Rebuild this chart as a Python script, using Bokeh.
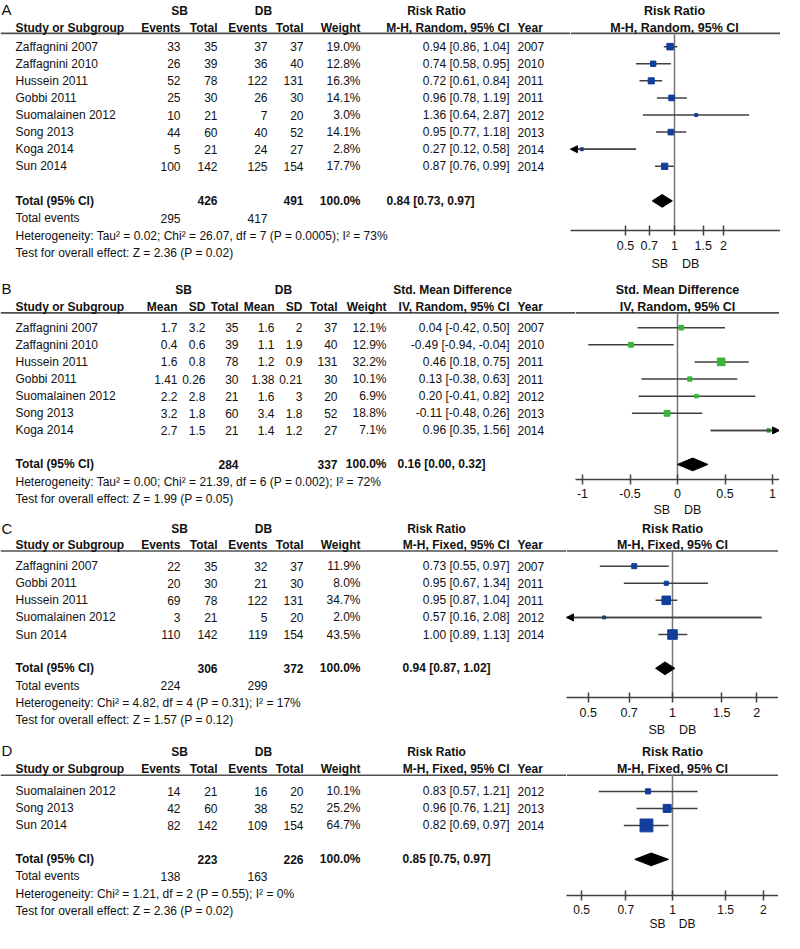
from bokeh.plotting import figure
from bokeh.models import Range1d, FixedTicker, CustomJSTickFormatter, Arrow, NormalHead
from bokeh.layouts import column, row
from bokeh.embed import file_html
from bokeh.resources import INLINE
from bokeh.core.properties import value

# ---------------- DATA ----------------
# Panel A
a_studies = ["Zaffagnini 2007", "Zaffagnini 2010", "Hussein 2011", "Gobbi 2011",
             "Suomalainen 2012", "Song 2013", "Koga 2014", "Sun 2014"]
a_sb_events = [33, 26, 52, 25, 10, 44, 5, 100]
a_sb_total = [35, 39, 78, 30, 21, 60, 21, 142]
a_db_events = [37, 36, 122, 26, 7, 40, 24, 125]
a_db_total = [37, 40, 131, 30, 20, 52, 27, 154]
a_weight = [19.0, 12.8, 16.3, 14.1, 3.0, 14.1, 2.8, 17.7]
a_est = [0.94, 0.74, 0.72, 0.96, 1.36, 0.95, 0.27, 0.87]
a_lo = [0.86, 0.58, 0.61, 0.78, 0.64, 0.77, 0.12, 0.76]
a_hi = [1.04, 0.95, 0.84, 1.19, 2.87, 1.18, 0.58, 0.99]
a_year = [2007, 2010, 2011, 2011, 2012, 2013, 2014, 2014]
a_total_n = [426, 491]
a_total_weight = 100.0
a_total_events = [295, 417]
a_total_rr = [0.84, 0.73, 0.97]
a_het = "Heterogeneity: Tau² = 0.02; Chi² = 26.07, df = 7 (P = 0.0005); I² = 73%"
a_test = "Test for overall effect: Z = 2.36 (P = 0.02)"

# Panel B
b_studies = ["Zaffagnini 2007", "Zaffagnini 2010", "Hussein 2011", "Gobbi 2011",
             "Suomalainen 2012", "Song 2013", "Koga 2014"]
b_sb_mean = [1.7, 0.4, 1.6, 1.41, 2.2, 3.2, 2.7]
b_sb_sd = [3.2, 0.6, 0.8, 0.26, 2.8, 1.8, 1.5]
b_sb_total = [35, 39, 78, 30, 21, 60, 21]
b_db_mean = [1.6, 1.1, 1.2, 1.38, 1.6, 3.4, 1.4]
b_db_sd = [2, 1.9, 0.9, 0.21, 3, 1.8, 1.2]
b_db_total = [37, 40, 131, 30, 20, 52, 27]
b_weight = [12.1, 12.9, 32.2, 10.1, 6.9, 18.8, 7.1]
b_est = [0.04, -0.49, 0.46, 0.13, 0.20, -0.11, 0.96]
b_lo = [-0.42, -0.94, 0.18, -0.38, -0.41, -0.48, 0.35]
b_hi = [0.50, -0.04, 0.75, 0.63, 0.82, 0.26, 1.56]
b_year = [2007, 2010, 2011, 2011, 2012, 2013, 2014]
b_total_n = [284, 337]
b_total_weight = 100.0
b_total_smd = [0.16, 0.00, 0.32]
b_het = "Heterogeneity: Tau² = 0.00; Chi² = 21.39, df = 6 (P = 0.002); I² = 72%"
b_test = "Test for overall effect: Z = 1.99 (P = 0.05)"

# Panel C
c_studies = ["Zaffagnini 2007", "Gobbi 2011", "Hussein 2011", "Suomalainen 2012", "Sun 2014"]
c_sb_events = [22, 20, 69, 3, 110]
c_sb_total = [35, 30, 78, 21, 142]
c_db_events = [32, 21, 122, 5, 119]
c_db_total = [37, 30, 131, 20, 154]
c_weight = [11.9, 8.0, 34.7, 2.0, 43.5]
c_est = [0.73, 0.95, 0.95, 0.57, 1.00]
c_lo = [0.55, 0.67, 0.87, 0.16, 0.89]
c_hi = [0.97, 1.34, 1.04, 2.08, 1.13]
c_year = [2007, 2011, 2011, 2012, 2014]
c_total_n = [306, 372]
c_total_weight = 100.0
c_total_events = [224, 299]
c_total_rr = [0.94, 0.87, 1.02]
c_het = "Heterogeneity: Chi² = 4.82, df = 4 (P = 0.31); I² = 17%"
c_test = "Test for overall effect: Z = 1.57 (P = 0.12)"

# Panel D
d_studies = ["Suomalainen 2012", "Song 2013", "Sun 2014"]
d_sb_events = [14, 42, 82]
d_sb_total = [21, 60, 142]
d_db_events = [16, 38, 109]
d_db_total = [20, 52, 154]
d_weight = [10.1, 25.2, 64.7]
d_est = [0.83, 0.96, 0.82]
d_lo = [0.57, 0.76, 0.69]
d_hi = [1.21, 1.21, 0.97]
d_year = [2012, 2013, 2014]
d_total_n = [223, 226]
d_total_weight = 100.0
d_total_events = [138, 163]
d_total_rr = [0.85, 0.75, 0.97]
d_het = "Heterogeneity: Chi² = 1.21, df = 2 (P = 0.55); I² = 0%"
d_test = "Test for overall effect: Z = 2.36 (P = 0.02)"

rr_ticks = [0.5, 0.7, 1, 1.5, 2]
smd_ticks = [-1, -0.5, 0, 0.5, 1]
axis_group_label = "SB\u00a0\u00a0\u00a0\u00a0DB"

# ---------------- LAYOUT / STYLE ----------------
K = 933 / 949.0
XL = 7
FONT = "Liberation Sans"
FS = "12px"
TXT = "#111111"
LINE = "#404040"
NULLC = "#777777"
BLUE = "#123d9b"
GREEN = "#3bb33b"

LA = dict(top=0, bottom=282, letter=9, h1=11, h2=27.5, ul=33.5, r0=47, step=17.4,
          total=204, events=221.5, het=240, test=257, axis=234,
          X0=577, X1=787, xn=681, scale=163, msize=1.5,
          lab_standoff=5, axlab_standoff=4, tick_fs="12.5px")
LB = dict(top=282, bottom=529, letter=293, h1=295, h2=312, ul=318, r0=333, step=17.4,
          total=472, events=None, het=490, test=507, axis=487,
          X0=582, X1=786, xn=684, scale=95, msize=1.35,
          lab_standoff=4, axlab_standoff=2, tick_fs="12.5px")
LC = dict(top=529, bottom=753, letter=537, h1=537.5, h2=554, ul=560, r0=575.5, step=17.4,
          total=679.5, events=697, het=715, test=732, axis=709,
          X0=573, X1=785, xn=679, scale=280, msize=1.45,
          lab_standoff=5, axlab_standoff=3, tick_fs="12.5px")
LD = dict(top=753, bottom=949, letter=763.5, h1=765, h2=782.5, ul=788.5, r0=805, step=17.4,
          total=874.5, events=892, het=910, test=927, axis=911,
          X0=573, X1=785, xn=679, scale=302, msize=1.6,
          lab_standoff=4, axlab_standoff=0, tick_fs="12px")

RRC = dict(name=22, c1=187, c2=224, c3=274, c4=310, w=367, ci=516, year=524,
           g1=186, g2=270, gci=443)
SMC = dict(name=22, m1=184, s1=212, t1=245, m2=281, s2=309, t2=344, w=393, ci=516,
           ci_tot=404, year=524, g1=190, g2=290, gci=459)
RR_CI_TOT = {"M-H, Random, 95% CI": 393, "M-H, Fixed, 95% CI": 409}


def panel_geom(L):
    H = round(L["bottom"] * K) - round(L["top"] * K)
    kp = H / float(L["bottom"] - L["top"])
    Hf = round((L["axis"] - L["top"]) * kp)
    return H, kp, Hf, H - Hf


def txt(p, xs, ys, texts, align, bold=False, size=FS):
    p.text(x=xs, y=ys, text=texts, text_align=align, text_baseline="middle",
           text_font=value(FONT), text_font_size=value(size),
           text_font_style="bold" if bold else "normal", text_color=TXT,
           level="overlay")


def table_fig(L):
    H, kp, Hf, mbb = panel_geom(L)
    p = figure(width=L["X0"] - XL, height=H,
               x_range=Range1d(XL, L["X0"]),
               y_range=Range1d(L["top"] + Hf / kp, L["top"]),
               x_axis_location=None, y_axis_location=None,
               toolbar_location=None, output_backend="svg",
               min_border_left=0, min_border_right=0, min_border_top=0, min_border_bottom=mbb)
    p.outline_line_color = None
    p.grid.grid_line_color = None
    p.segment(x0=[XL], x1=[L["X0"]], y0=[L["ul"]], y1=[L["ul"]],
              line_color="#505050", line_width=1.6)
    return p


def fmt_ci(e, l, h):
    return "%.2f [%.2f, %.2f]" % (e, l, h)


def rr_table(L, letter, method, studies, sbe, sbt, dbe, dbt, w, est, lo, hi, year,
             tot_n, tot_w, tot_ev, tot_rr, het, test):
    p = table_fig(L)
    C = RRC
    n = len(studies)
    ys = [L["r0"] + i * L["step"] for i in range(n)]
    txt(p, [XL + 1], [L["letter"]], [letter], "left", size="15px")
    txt(p, [C["g1"], C["g2"], C["gci"]], [L["h1"]] * 3, ["SB", "DB", "Risk Ratio"], "center", bold=True)
    txt(p, [C["name"]], [L["h2"]], ["Study or Subgroup"], "left", bold=True)
    txt(p, [C["c1"], C["c2"], C["c3"], C["c4"], C["w"], C["ci"]], [L["h2"]] * 6,
        ["Events", "Total", "Events", "Total", "Weight", method], "right", bold=True)
    txt(p, [C["year"]], [L["h2"]], ["Year"], "left", bold=True)
    txt(p, [C["name"]] * n, ys, studies, "left")
    txt(p, [C["c1"]] * n, ys, [str(v) for v in sbe], "right")
    txt(p, [C["c2"]] * n, ys, [str(v) for v in sbt], "right")
    txt(p, [C["c3"]] * n, ys, [str(v) for v in dbe], "right")
    txt(p, [C["c4"]] * n, ys, [str(v) for v in dbt], "right")
    txt(p, [C["w"]] * n, ys, ["%.1f%%" % v for v in w], "right")
    txt(p, [C["ci"]] * n, ys, [fmt_ci(e, l, h) for e, l, h in zip(est, lo, hi)], "right")
    txt(p, [C["year"]] * n, ys, [str(v) for v in year], "left")
    txt(p, [C["name"]], [L["total"]], ["Total (95% CI)"], "left", bold=True)
    txt(p, [C["c2"], C["c4"], C["w"]], [L["total"]] * 3,
        [str(tot_n[0]), str(tot_n[1]), "%.1f%%" % tot_w], "right", bold=True)
    txt(p, [RR_CI_TOT[method]], [L["total"]], [fmt_ci(*tot_rr)], "left", bold=True)
    txt(p, [C["name"]], [L["events"]], ["Total events"], "left")
    txt(p, [C["c1"], C["c3"]], [L["events"]] * 2, [str(tot_ev[0]), str(tot_ev[1])], "right")
    txt(p, [C["name"], C["name"]], [L["het"], L["test"]], [het, test], "left")
    return p


def smd_table(L):
    p = table_fig(L)
    C = SMC
    n = len(b_studies)
    ys = [L["r0"] + i * L["step"] for i in range(n)]
    txt(p, [XL + 1], [L["letter"]], ["B"], "left", size="15px")
    txt(p, [C["g1"], C["g2"], C["gci"]], [L["h1"]] * 3, ["SB", "DB", "Std. Mean Difference"], "center", bold=True)
    txt(p, [C["name"]], [L["h2"]], ["Study or Subgroup"], "left", bold=True)
    txt(p, [C["m1"], C["s1"], C["t1"], C["m2"], C["s2"], C["t2"], C["w"], C["ci"]], [L["h2"]] * 8,
        ["Mean", "SD", "Total", "Mean", "SD", "Total", "Weight", "IV, Random, 95% CI"], "right", bold=True)
    txt(p, [C["year"]], [L["h2"]], ["Year"], "left", bold=True)
    txt(p, [C["name"]] * n, ys, b_studies, "left")
    txt(p, [C["m1"]] * n, ys, ["%g" % v for v in b_sb_mean], "right")
    txt(p, [C["s1"]] * n, ys, ["%g" % v for v in b_sb_sd], "right")
    txt(p, [C["t1"]] * n, ys, [str(v) for v in b_sb_total], "right")
    txt(p, [C["m2"]] * n, ys, ["%g" % v for v in b_db_mean], "right")
    txt(p, [C["s2"]] * n, ys, ["%g" % v for v in b_db_sd], "right")
    txt(p, [C["t2"]] * n, ys, [str(v) for v in b_db_total], "right")
    txt(p, [C["w"]] * n, ys, ["%.1f%%" % v for v in b_weight], "right")
    txt(p, [C["ci"]] * n, ys, [fmt_ci(e, l, h) for e, l, h in zip(b_est, b_lo, b_hi)], "right")
    txt(p, [C["year"]] * n, ys, [str(v) for v in b_year], "left")
    txt(p, [C["name"]], [L["total"]], ["Total (95% CI)"], "left", bold=True)
    txt(p, [C["t1"], C["t2"], C["w"]], [L["total"]] * 3,
        [str(b_total_n[0]), str(b_total_n[1]), "%.1f%%" % b_total_weight], "right", bold=True)
    txt(p, [C["ci_tot"]], [L["total"]], [fmt_ci(*b_total_smd)], "left", bold=True)
    txt(p, [C["name"], C["name"]], [L["het"], L["test"]], [b_het, b_test], "left")
    return p


def forest_fig(L, log, head1, head2, est, lo, hi, w, color, tot, ticks):
    H, kp, Hf, mbb = panel_geom(L)
    if log:
        xr = Range1d(10 ** ((L["X0"] - L["xn"]) / L["scale"]), 10 ** ((L["X1"] - L["xn"]) / L["scale"]))
        null = 1
    else:
        xr = Range1d((L["X0"] - L["xn"]) / L["scale"], (L["X1"] - L["xn"]) / L["scale"])
        null = 0
    p = figure(width=L["X1"] - L["X0"], height=H, x_range=xr,
               y_range=Range1d(L["top"] + Hf / kp, L["top"]),
               x_axis_type="log" if log else "linear", y_axis_location=None,
               toolbar_location=None, output_backend="svg",
               min_border_left=0, min_border_right=0, min_border_top=0, min_border_bottom=mbb)
    p.outline_line_color = None
    p.grid.grid_line_color = None
    n = len(est)
    ys = [L["r0"] + i * L["step"] for i in range(n)]
    p.segment(x0=[xr.start], x1=[xr.end], y0=[L["ul"]], y1=[L["ul"]], line_color="#505050", line_width=1.6)
    p.segment(x0=[null], x1=[null], y0=[L["ul"]], y1=[L["axis"]], line_color=NULLC, line_width=1.5)
    p.segment(x0=lo, x1=hi, y0=ys, y1=ys, line_color=LINE, line_width=1.5)
    sizes = [max(3.0, L["msize"] * v ** 0.5) for v in w]
    p.scatter(x=est, y=ys, marker="square", size=sizes, fill_color=color, line_color=color)
    for l, h, y in zip(lo, hi, ys):
        if l < xr.start:
            p.add_layout(Arrow(end=NormalHead(size=7, fill_color="black", line_color="black"),
                               x_start=h, y_start=y, x_end=xr.start, y_end=y,
                               line_color=LINE, line_width=1.5))
        if h > xr.end:
            p.add_layout(Arrow(end=NormalHead(size=7, fill_color="black", line_color="black"),
                               x_start=l, y_start=y, x_end=xr.end, y_end=y,
                               line_color=LINE, line_width=1.5))
    te, tl, th = tot
    ty = L["total"]
    p.patch(x=[tl, te, th, te], y=[ty, ty - 6.5, ty, ty + 6.5], fill_color="black", line_color="black")
    txt(p, [null, null], [L["h1"], L["h2"]], [head1, head2], "center", bold=True, size="12.5px")
    ax = p.xaxis[0]
    ax.ticker = FixedTicker(ticks=ticks)
    ax.formatter = CustomJSTickFormatter(code="return tick.toString();")
    ax.axis_line_color = LINE
    ax.axis_line_width = 1.5
    ax.major_tick_line_color = LINE
    ax.major_tick_line_width = 1.5
    ax.major_tick_in = 5
    ax.major_tick_out = 5
    ax.minor_tick_line_color = None
    ax.major_label_standoff = L["lab_standoff"]
    ax.major_label_text_font = FONT
    ax.major_label_text_font_size = L["tick_fs"]
    ax.major_label_text_color = TXT
    ax.axis_label = axis_group_label
    ax.axis_label_text_font = FONT
    ax.axis_label_text_font_size = L["tick_fs"]
    ax.axis_label_text_font_style = "normal"
    ax.axis_label_text_color = TXT
    ax.axis_label_standoff = L["axlab_standoff"]
    return p


ta = rr_table(LA, "A", "M-H, Random, 95% CI", a_studies, a_sb_events, a_sb_total, a_db_events,
              a_db_total, a_weight, a_est, a_lo, a_hi, a_year, a_total_n, a_total_weight,
              a_total_events, a_total_rr, a_het, a_test)
fa = forest_fig(LA, True, "Risk Ratio", "M-H, Random, 95% CI", a_est, a_lo, a_hi, a_weight,
                BLUE, a_total_rr, rr_ticks)
tb = smd_table(LB)
fb = forest_fig(LB, False, "Std. Mean Difference", "IV, Random, 95% CI", b_est, b_lo, b_hi,
                b_weight, GREEN, b_total_smd, smd_ticks)
tc = rr_table(LC, "C", "M-H, Fixed, 95% CI", c_studies, c_sb_events, c_sb_total, c_db_events,
              c_db_total, c_weight, c_est, c_lo, c_hi, c_year, c_total_n, c_total_weight,
              c_total_events, c_total_rr, c_het, c_test)
fc = forest_fig(LC, True, "Risk Ratio", "M-H, Fixed, 95% CI", c_est, c_lo, c_hi, c_weight,
                BLUE, c_total_rr, rr_ticks)
td = rr_table(LD, "D", "M-H, Fixed, 95% CI", d_studies, d_sb_events, d_sb_total, d_db_events,
              d_db_total, d_weight, d_est, d_lo, d_hi, d_year, d_total_n, d_total_weight,
              d_total_events, d_total_rr, d_het, d_test)
fd = forest_fig(LD, True, "Risk Ratio", "M-H, Fixed, 95% CI", d_est, d_lo, d_hi, d_weight,
                BLUE, d_total_rr, rr_ticks)

layout = column(row(ta, fa), row(tb, fb), row(tc, fc), row(td, fd))
open("out.html", "w").write(file_html(layout, INLINE))
